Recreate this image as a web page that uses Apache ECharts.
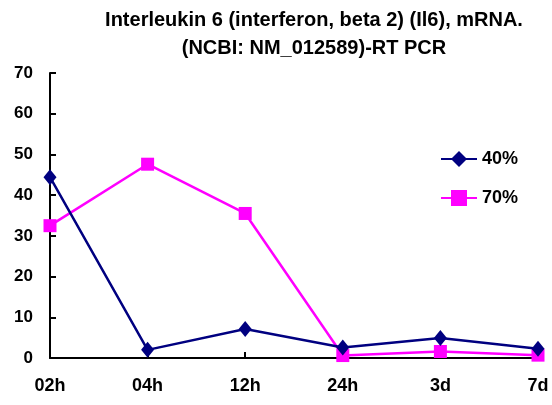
<!DOCTYPE html>
<html>
<head>
<meta charset="utf-8">
<script src="https://cdn.jsdelivr.net/npm/echarts@6/dist/echarts.min.js"></script>
<style>
  html, body { margin: 0; padding: 0; background: #fff; }
  #chart { width: 552px; height: 405px; }
</style>
</head>
<body>
<div id="chart"></div>
<script>
// Time points and relative expression values
const categories = ['02h', '04h', '12h', '24h', '3d', '7d'];
const series40 = [44.4, 2.0, 7.1, 2.6, 4.9, 2.3];
const series70 = [32.5, 47.6, 35.5, 0.6, 1.6, 0.7];
const yTicks = { min: 0, max: 70, interval: 10 };

const font = 'Liberation Sans, Arial, sans-serif';
const chart = echarts.init(document.getElementById('chart'));

chart.setOption({
  animation: false,
  backgroundColor: '#fff',
  title: {
    text: 'Interleukin 6 (interferon, beta 2) (Il6), mRNA.\n(NCBI: NM_012589)-RT PCR',
    left: 309,
    textAlign: 'center',
    top: 1,
    textStyle: {
      fontFamily: font,
      fontWeight: 'bold',
      fontSize: 20,
      lineHeight: 28,
      color: '#000'
    }
  },
  legend: {
    orient: 'vertical',
    left: 435,
    top: 144,
    itemGap: 19,
    itemWidth: 36,
    itemHeight: 20,
    textStyle: { fontFamily: font, fontWeight: 'bold', fontSize: 18, lineHeight: 20, color: '#000' },
    data: ['40%', '70%']
  },
  grid: { left: 50, right: 14, top: 73, bottom: 47, containLabel: false },
  xAxis: {
    type: 'category',
    data: categories,
    boundaryGap: false,
    axisLine: { lineStyle: { color: '#000', width: 2 } },
    axisTick: { inside: true, length: 6, lineStyle: { color: '#000', width: 2 } },
    axisLabel: { fontFamily: font, fontWeight: 'bold', fontSize: 18, color: '#000', margin: 19 },
    splitLine: { show: false }
  },
  yAxis: {
    type: 'value',
    min: yTicks.min,
    max: yTicks.max,
    interval: yTicks.interval,
    axisLine: { show: true, lineStyle: { color: '#000', width: 2 } },
    axisTick: { show: true, inside: true, length: 6, lineStyle: { color: '#000', width: 2 } },
    axisLabel: { fontFamily: font, fontWeight: 'bold', fontSize: 17, color: '#000', margin: 17 },
    splitLine: { show: false }
  },
  series: [
    {
      name: '40%',
      type: 'line',
      data: series40,
      symbol: 'diamond',
      symbolSize: [13, 16],
      itemStyle: { color: '#000080' },
      lineStyle: { color: '#000080', width: 2.5 },
      z: 3
    },
    {
      name: '70%',
      type: 'line',
      data: series70,
      symbol: 'rect',
      symbolSize: 13,
      itemStyle: { color: '#ff00ff' },
      lineStyle: { color: '#ff00ff', width: 2.5 },
      z: 2
    }
  ]
});
</script>
</body>
</html>
